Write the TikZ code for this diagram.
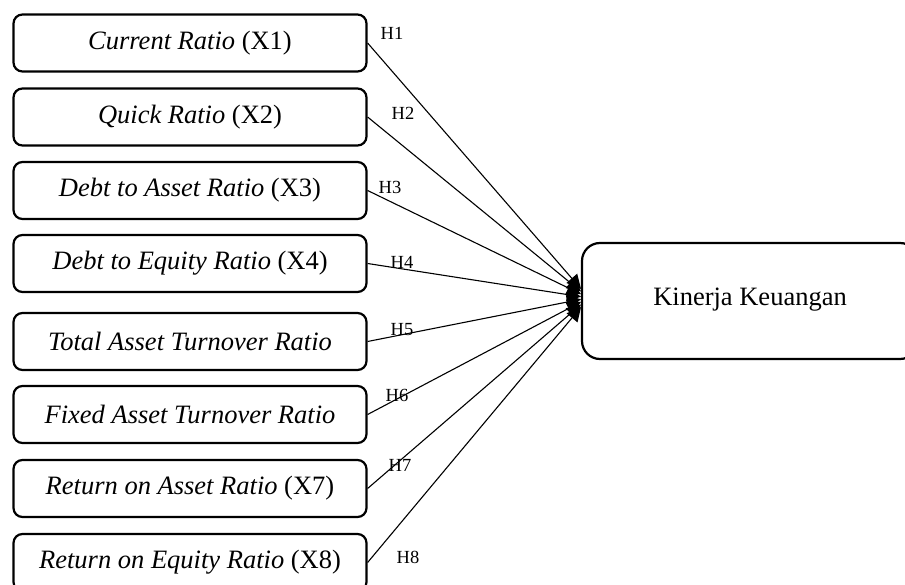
\documentclass[tikz,border=0pt]{standalone}
\usepackage{fontspec}
\setmainfont{Liberation Serif}
\usetikzlibrary{arrows.meta}

\begin{document}
\begin{tikzpicture}[x=1pt,y=-1pt,
    ratiobox/.style={draw,line width=2.2pt,rounded corners=9pt,minimum width=353pt,minimum height=57pt,inner sep=0pt,font=\fontsize{26.5}{30}\selectfont},
    outcomebox/.style={draw,line width=2.2pt,rounded corners=18pt,minimum width=336pt,minimum height=116pt,inner sep=0pt,font=\fontsize{26.5}{30}\selectfont},
    hyp/.style={inner sep=0pt,font=\fontsize{18.5}{20}\selectfont},
    link/.style={line width=1.1pt,-{Triangle[length=14pt,width=14pt]}}]
    \useasboundingbox (0,0) rectangle (905,585);
    \clip (0,0) rectangle (905,585);
    \node[outcomebox] (kk) at (750,301) {\raisebox{8pt}{Kinerja Keuangan}};
    \foreach \i/\y/\txt/\hx/\hy in {1/43/{\textit{Current Ratio} (X1)}/392/33,
        2/117/{\textit{Quick Ratio} (X2)}/403/113,
        3/190.5/{\textit{Debt to Asset Ratio} (X3)}/390/187,
        4/263.5/{\textit{Debt to Equity Ratio} (X4)}/402/262,
        5/341.5/{\textit{Total Asset Turnover Ratio}}/402/330,
        6/414.5/{\textit{Fixed Asset Turnover Ratio}}/397/395,
        7/488.5/{\textit{Return on Asset Ratio} (X7)}/400/465,
        8/562.5/{\textit{Return on Equity Ratio} (X8)}/408/557} {
      \node[ratiobox] (x\i) at (190,\y) {\txt};
      \node[hyp] (h\i) at (\hx,\hy) {H\i};
      \coordinate (t\i) at (581,{298+(\i-4.5)*2.6});
      \draw[link] (x\i.east) -- (t\i);
    }
  \end{tikzpicture}
\end{document}
